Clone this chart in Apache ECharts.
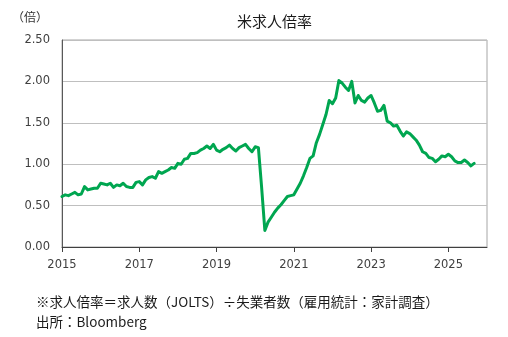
<!DOCTYPE html>
<html>
<head>
<meta charset="utf-8">
<script src="https://cdn.jsdelivr.net/npm/echarts@6/dist/echarts.min.js"></script>
<style>
html,body{margin:0;padding:0;background:#fff;}
#chart{width:508px;height:337px;}
</style>
</head>
<body>
<div id="chart"></div>
<script>
// Monthly data starting 2015-01 (index 0)
const startYear = 2015;
const ratioValues = [
  0.61,0.63,0.62,0.64,0.66,0.63,0.64,0.73,0.69,0.70,0.71,0.71, // 2015
  0.77,0.76,0.75,0.77,0.72,0.75,0.74,0.77,0.73,0.72,0.72,0.78, // 2016
  0.79,0.75,0.81,0.84,0.85,0.83,0.91,0.89,0.91,0.93,0.96,0.95, // 2017
  1.01,1.00,1.06,1.07,1.13,1.13,1.14,1.17,1.19,1.22,1.19,1.24, // 2018
  1.17,1.15,1.18,1.20,1.23,1.19,1.16,1.20,1.22,1.24,1.19,1.15, // 2019
  1.21,1.20,0.72,0.20,0.30,0.36,0.42,0.47,0.51,0.56,0.61,0.62, // 2020
  0.63,0.70,0.77,0.86,0.96,1.07,1.10,1.26,1.36,1.48,1.60,1.77, // 2021
  1.73,1.80,2.01,1.98,1.93,1.89,2.00,1.74,1.83,1.77,1.75,1.80, // 2022
  1.83,1.74,1.64,1.65,1.71,1.52,1.50,1.46,1.47,1.40,1.34,1.39, // 2023
  1.37,1.33,1.29,1.23,1.15,1.13,1.08,1.07,1.03,1.06,1.10,1.09, // 2024
  1.12,1.09,1.04,1.02,1.02,1.05,1.02,0.98,1.01                 // 2025
];
const seriesName = '米求人倍率';
const yTicks = [0, 0.5, 1.0, 1.5, 2.0, 2.5];
const xTickYears = [2015, 2017, 2019, 2021, 2023, 2025];
const titleText = '米求人倍率';
const unitText = '（倍）';
const noteText = '※求人倍率＝求人数（JOLTS）÷失業者数（雇用統計：家計調査）';
const sourceText = '出所：Bloomberg';

const seriesData = ratioValues.map((v, i) => [i, v]);
const xTickValues = xTickYears.map(y => (y - startYear) * 12);
const jp = '"Noto Sans CJK JP", sans-serif';
const num = '"DejaVu Sans", sans-serif';

const chart = echarts.init(document.getElementById('chart'), null, {renderer: 'canvas'});
chart.setOption({
  animation: false,
  backgroundColor: '#fff',
  title: {
    text: titleText,
    left: 232, top: 9,
    textStyle: {fontFamily: jp, fontSize: 15, fontWeight: 'normal', color: '#1a1a1a'}
  },
  grid: {
    left: 62, right: 21, top: 40, bottom: 90,
    show: true, borderColor: '#a6a6a6', borderWidth: 1
  },
  xAxis: {
    type: 'value',
    min: 0, max: 132, interval: 24,
    axisLine: {show: true, lineStyle: {color: '#404040', width: 1}},
    axisTick: {show: true, length: 5, customValues: xTickValues, lineStyle: {color: '#404040'}},
    axisLabel: {
      margin: 12, fontFamily: num, fontSize: 11.5, color: '#404040',
      customValues: xTickValues,
      formatter: v => String(startYear + v / 12)
    },
    splitLine: {show: false}
  },
  yAxis: {
    type: 'value',
    min: yTicks[0], max: yTicks[yTicks.length - 1], interval: 0.5,
    axisLine: {show: true, lineStyle: {color: '#595959', width: 1}},
    axisTick: {show: false},
    axisLabel: {
      margin: 12, fontFamily: num, fontSize: 11.5, color: '#404040',
      formatter: v => v.toFixed(2)
    },
    splitLine: {show: true, lineStyle: {color: '#bfbfbf', width: 1}}
  },
  series: [{
    name: seriesName,
    type: 'line',
    data: seriesData,
    showSymbol: false,
    symbol: 'none',
    lineStyle: {color: '#00a650', width: 3, join: 'round', cap: 'round'},
    z: 5
  }],
  graphic: [
    {type: 'text', left: 12, top: 11,
     style: {text: unitText, fontFamily: jp, fontSize: 12, fill: '#333'}},
    {type: 'text', left: 36, top: 295,
     style: {text: noteText, fontFamily: jp, fontSize: 13.5, fill: '#1a1a1a'}},
    {type: 'text', left: 36, top: 315,
     style: {text: sourceText, fontFamily: jp, fontSize: 13.5, fill: '#1a1a1a'}}
  ]
});
</script>
</body>
</html>
